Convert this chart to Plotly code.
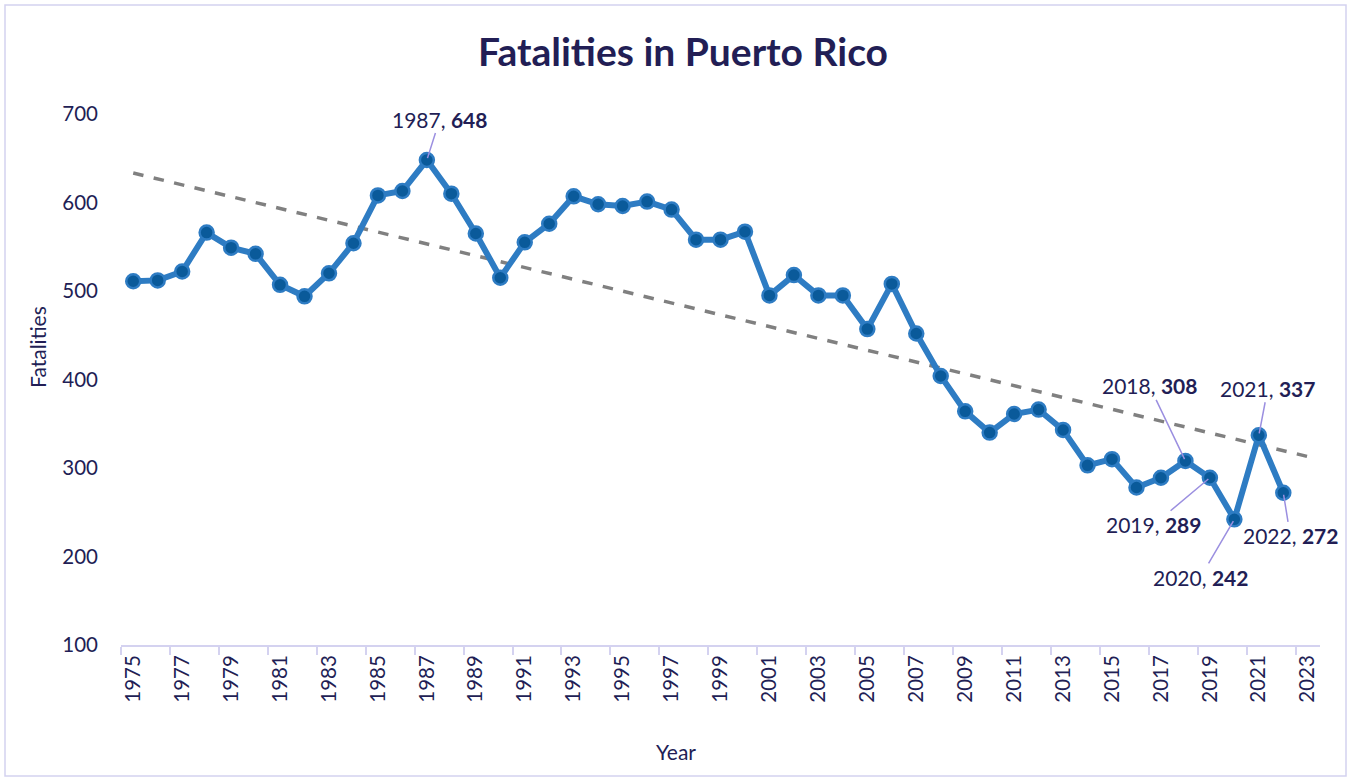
import numpy as np
import plotly.graph_objects as go

years = list(range(1975, 2024))
fatalities = [511, 512, 522, 566, 549, 542, 507, 494, 520, 554,
              608, 613, 648, 610, 565, 515, 555, 576, 607, 598,
              596, 601, 592, 558, 558, 567, 495, 518, 495, 495,
              457, 508, 452, 404, 364, 340, 361, 366, 343, 303,
              310, 278, 289, 308, 289, 242, 337, 272, None]
labelled_years = [1987, 2018, 2019, 2020, 2021, 2022]
label_offsets = {1987: (13, -41), 2018: (-36, -75), 2019: (-56, 47),
                 2020: (-34, 58), 2021: (9, -47), 2022: (7, 43)}

cats = [str(y) for y in years]
NAVY = "#221E55"
FONT = "Lato"

# linear trend over the data points (Excel-style trendline, extended to last category)
idx = np.array([i for i, v in enumerate(fatalities) if v is not None], dtype=float)
vals = np.array([v for v in fatalities if v is not None], dtype=float)
slope, intercept = np.polyfit(idx, vals, 1)
trend_x = [cats[0], cats[-1]]
trend_y = [intercept, intercept + slope * (len(cats) - 1)]

fig = go.Figure()
fig.add_trace(go.Scatter(x=trend_x, y=trend_y, mode="lines",
                         line=dict(color="#808080", width=3.5, dash="dash"),
                         hoverinfo="skip", showlegend=False))
fig.add_trace(go.Scatter(x=cats, y=fatalities, mode="lines+markers",
                         line=dict(color="#2E7CC3", width=6),
                         marker=dict(size=14, color="#0A5A9A",
                                     line=dict(color="#2E7CC3", width=2.5)),
                         showlegend=False))

for yr in labelled_years:
    i = years.index(yr)
    v = fatalities[i]
    ax, ay = label_offsets[yr]
    fig.add_annotation(x=i, y=v, xref="x", yref="y",
                       text=f"{yr}, <b>{v}</b>",
                       showarrow=True, arrowhead=0, arrowwidth=1.5,
                       arrowcolor="#9B8FE0", ax=ax, ay=ay, standoff=2,
                       font=dict(family=FONT, size=21, color=NAVY))

# pixel -> paper helpers (plot area in pixels)
L, R, T, B = 121, 1320, 114, 645
def px(xp):
    return (xp - L) / (R - L)
def py(yp):
    return (B - yp) / (B - T)

# axis titles placed like the reference
fig.add_annotation(x=px(37), y=py(347), xref="paper", yref="paper",
                   text="Fatalities", textangle=-90, showarrow=False,
                   xanchor="center", yanchor="middle",
                   font=dict(family=FONT, size=21, color=NAVY))
fig.add_annotation(x=px(676), y=py(751), xref="paper", yref="paper",
                   text="Year", showarrow=False,
                   xanchor="center", yanchor="middle",
                   font=dict(family=FONT, size=21, color=NAVY))

# chart border
fig.add_shape(type="rect", xref="paper", yref="paper",
              x0=px(5), x1=px(1346), y0=py(776), y1=py(5),
              line=dict(color="#D4D2F0", width=1.5), layer="below")

fig.update_layout(
    width=1351, height=780,
    margin=dict(l=L, r=1351 - R, t=T, b=780 - B),
    paper_bgcolor="white", plot_bgcolor="white",
    font=dict(family=FONT, color=NAVY),
    title=dict(text="<b>Fatalities in Puerto Rico</b>", x=683 / 1351, xref="container",
               xanchor="center", y=1 - 52 / 780, yanchor="middle",
               font=dict(family=FONT, size=39, color=NAVY)),
    xaxis=dict(type="category", categoryorder="array", categoryarray=cats,
               range=[-0.5, len(cats) - 0.5], dtick=2, tickson="boundaries",
               ticks="outside", ticklen=8, tickcolor="#D4D2F0", tickwidth=2,
               showline=True, linecolor="#D4D2F0", linewidth=2,
               showgrid=False, zeroline=False, tickangle=-90,
               tickfont=dict(family=FONT, size=20.5, color=NAVY)),
    yaxis=dict(range=[100, 700], dtick=100, showgrid=False, zeroline=False,
               showline=False, ticks="", ticklabelstandoff=22,
               tickfont=dict(family=FONT, size=20.5, color=NAVY)),
)

fig.write_html("out.html")
